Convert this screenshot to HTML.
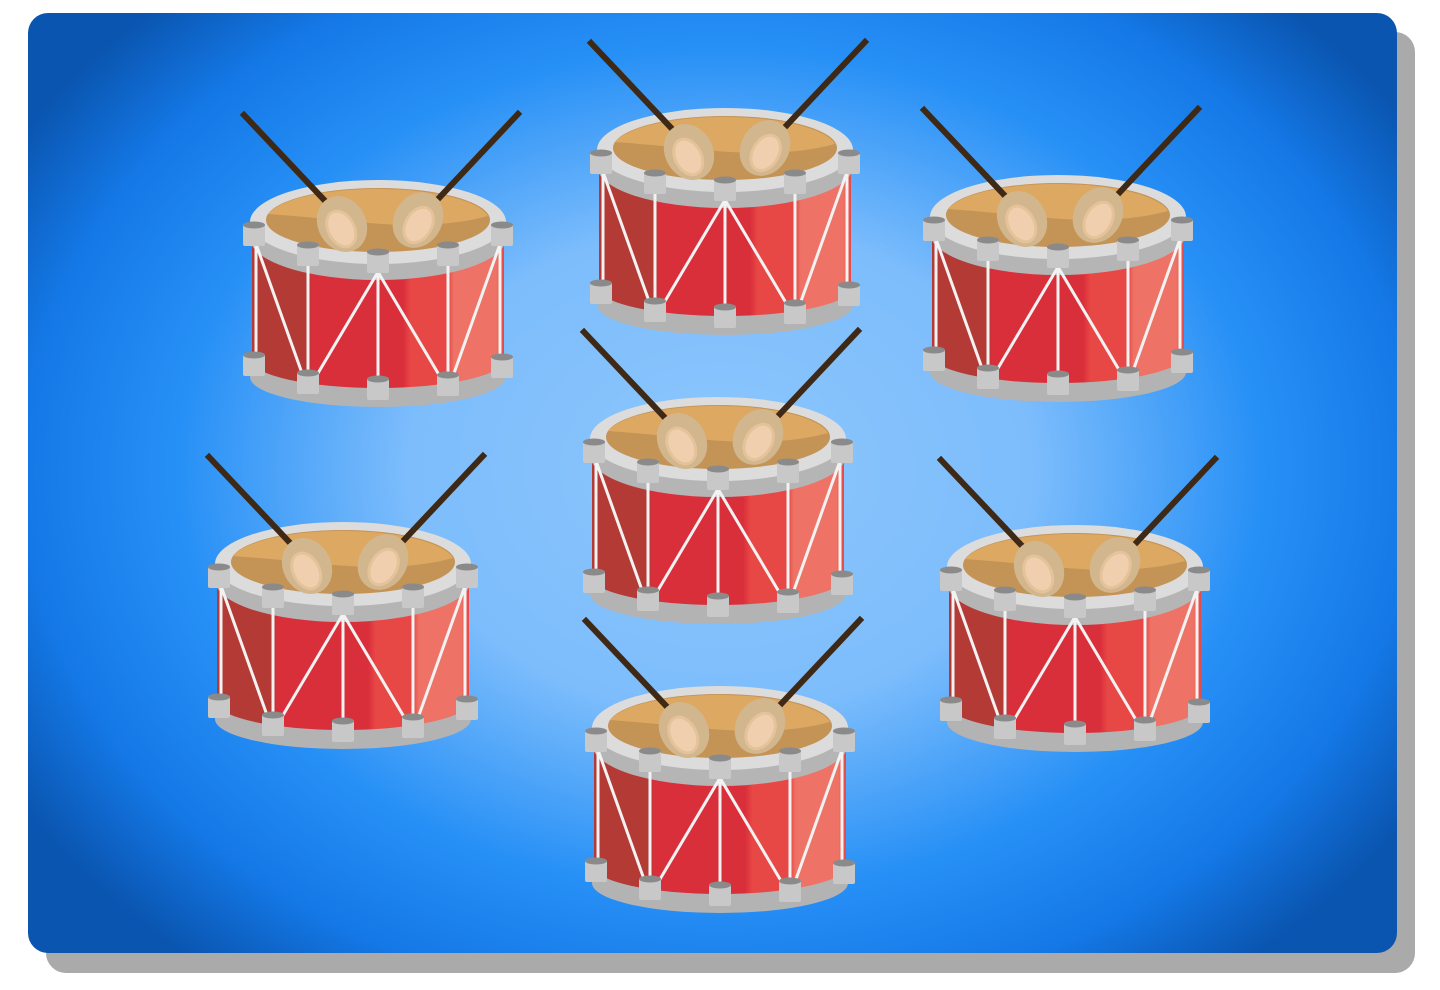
<!DOCTYPE html>
<html><head><meta charset="utf-8"><style>
html,body{margin:0;padding:0;background:#fff;width:1440px;height:990px;overflow:hidden}
svg{display:block}
</style></head><body>
<svg width="1440" height="990" viewBox="0 0 1440 990">
<defs>
<radialGradient id="bg" cx="720" cy="470" r="820" gradientUnits="userSpaceOnUse" gradientTransform="translate(720 470) scale(1 0.78) translate(-720 -470)">
<stop offset="0" stop-color="#8cc6fd"/><stop offset="0.38" stop-color="#7dbdfc"/><stop offset="0.66" stop-color="#2790f6"/><stop offset="0.85" stop-color="#1478e6"/><stop offset="1" stop-color="#0a55b0"/>
</radialGradient>
<linearGradient id="shell" x1="0" x2="1" y1="0" y2="0">
<stop offset="0" stop-color="#b33a35"/><stop offset="0.22" stop-color="#b33a35"/><stop offset="0.24" stop-color="#d92f3b"/><stop offset="0.6" stop-color="#d92f3b"/><stop offset="0.63" stop-color="#e84845"/><stop offset="0.78" stop-color="#e84845"/><stop offset="0.8" stop-color="#ee7265"/><stop offset="0.97" stop-color="#ee7265"/><stop offset="1" stop-color="#e84845"/>
</linearGradient>
<g id="lug"><rect x="-11" y="0" width="22" height="22" rx="2" fill="#c8c8c8"/><ellipse cx="0" cy="1" rx="11" ry="3.5" fill="#8a8a8a"/></g>
<g id="drum">
<ellipse cx="0" cy="155" rx="128" ry="30" fill="#b3b3b3"/>
<rect x="-128" y="135" width="256" height="20" fill="#b3b3b3"/>
<ellipse cx="0" cy="138" rx="126" ry="28" fill="url(#shell)"/>
<rect x="-126" y="15" width="252" height="123" fill="url(#shell)"/>
<ellipse cx="0" cy="16" rx="128" ry="42" fill="#b5b5b5"/>
<ellipse cx="0" cy="0" rx="128" ry="42" fill="#dcdcdc"/>
<ellipse cx="0" cy="-2" rx="112" ry="32" fill="#c49356"/>
<path d="M-110,-8 A112,32 0 0 1 110,-6 Q60,8 -20,0 Q-70,-5 -110,-8Z" fill="#dca862"/>
<g stroke="#f2f2f2" stroke-width="3" fill="none">
<line x1="-122" y1="20" x2="-122" y2="148"/><line x1="-70" y1="40" x2="-70" y2="168"/><line x1="0" y1="50" x2="0" y2="172"/><line x1="70" y1="40" x2="70" y2="168"/><line x1="122" y1="20" x2="122" y2="148"/>
<polyline points="-122,22 -70,168 0,50 70,168 122,22"/>
</g>
<use href="#lug" x="-124" y="2"/><use href="#lug" x="124" y="2"/>
<use href="#lug" x="-70" y="22"/><use href="#lug" x="0" y="29"/><use href="#lug" x="70" y="22"/>
<use href="#lug" x="-124" y="132"/><use href="#lug" x="124" y="134"/>
<use href="#lug" x="-70" y="150"/><use href="#lug" x="0" y="156"/><use href="#lug" x="70" y="152"/>
<g stroke="#3e2916" stroke-width="6" stroke-linecap="square">
<line x1="-134" y1="-107" x2="-50" y2="-18"/><line x1="140" y1="-108" x2="62" y2="-25"/>
</g>
<g transform="translate(-36,2) rotate(-28)"><ellipse rx="24" ry="29" fill="#d2b68d"/><ellipse cx="-3" cy="4" rx="13" ry="19" fill="#f0cfaf" stroke="#e4c39a" stroke-width="3"/></g>
<g transform="translate(40,-2) rotate(30)"><ellipse rx="24" ry="29" fill="#d2b68d"/><ellipse cx="3" cy="4" rx="13" ry="19" fill="#f0cfaf" stroke="#e4c39a" stroke-width="3"/></g>
</g>
</defs>
<rect x="46" y="32" width="1369" height="941" rx="20" fill="#aaaaaa"/>
<rect x="28" y="13" width="1369" height="940" rx="20" fill="url(#bg)"/>
<use href="#drum" x="378" y="222"/>
<use href="#drum" x="725" y="150"/>
<use href="#drum" x="1058" y="217"/>
<use href="#drum" x="718" y="439"/>
<use href="#drum" x="343" y="564"/>
<use href="#drum" x="1075" y="567"/>
<use href="#drum" x="720" y="728"/>
</svg>
</body></html>
